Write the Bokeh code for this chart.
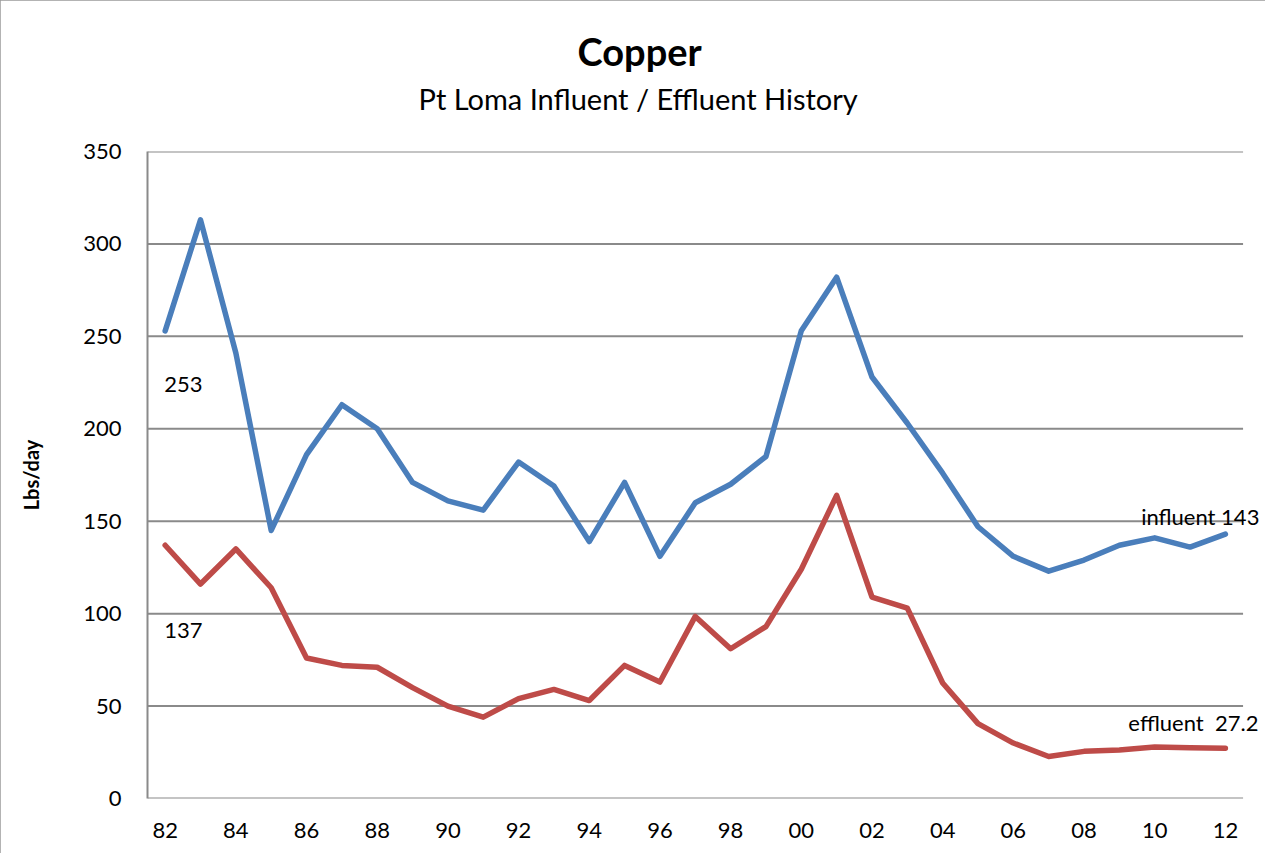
from bokeh.plotting import figure
from bokeh.models import Title, Label, FixedTicker, Range1d
from bokeh.embed import file_html
from bokeh.resources import INLINE

years = list(range(1982, 2013))
influent = [253, 313, 241, 145, 186, 213, 200, 171, 161, 156, 182, 169, 139, 171, 131,
            160, 170, 185, 253, 282, 228, 203, 176, 147, 131, 123, 129, 137, 141, 136, 143]
effluent = [137, 116, 135, 114, 76, 72, 71, 60, 50, 44, 54, 59, 53, 72, 63,
            98.5, 81, 93, 124, 164, 109, 103, 62.5, 40.5, 30, 22.7, 25.5, 26.2, 27.8, 27.4, 27.2]
y_ticks = [0, 50, 100, 150, 200, 250, 300, 350]
x_ticks = years[::2]
x_labels = {y: f"{y % 100:02d}" for y in x_ticks}

FONT = "Lato"
GRID = "#8a8a8a"
BLUE = "#4A7EBB"
RED = "#BE4B48"

x_lo = years[0] - 0.5
x_hi = years[-1] + 0.5

p = figure(width=1265, height=853, output_backend="svg", toolbar_location=None,
           x_range=Range1d(x_lo, x_hi + 0.55), y_range=Range1d(0, 350),
           min_border_left=147, min_border_right=3, min_border_top=151, min_border_bottom=55,
           title=None)
p.outline_line_color = None
p.background_fill_color = "white"
p.border_fill_color = "white"
p.styles = {"outline": "2px solid #9a9a9a", "outline-offset": "-2px"}

sub = Title(text="Pt Loma Influent / Effluent History", align="left", offset=271,
            text_font=FONT, text_font_size="29px", text_font_style="normal",
            text_color="black", standoff=71)
p.add_layout(sub, "above")
ttl = Title(text="Copper", align="left", offset=430, text_font=FONT, text_font_size="38px",
            text_font_style="bold", text_color="black", standoff=0)
try:
    ttl.standoff = -60
except Exception:
    ttl.standoff = 0
p.add_layout(ttl, "above")

# horizontal gridlines (ending at the category axis end)
p.segment(x0=[x_lo] * len(y_ticks), y0=y_ticks, x1=[x_hi] * len(y_ticks), y1=y_ticks,
          line_color=GRID, line_width=2, level="underlay")

p.line(years, influent, line_color=BLUE, line_width=5.5, line_join="round", line_cap="round")
p.line(years, effluent, line_color=RED, line_width=5.5, line_join="round", line_cap="round")

# axes
p.xaxis.ticker = FixedTicker(ticks=x_ticks)
p.xaxis.major_label_overrides = x_labels
p.yaxis.ticker = FixedTicker(ticks=y_ticks)
for ax in (p.xaxis, p.yaxis):
    ax.major_tick_line_color = None
    ax.minor_tick_line_color = None
    ax.major_tick_in = 0
    ax.major_tick_out = 0
    ax.major_label_text_font = FONT
    ax.major_label_text_font_size = "22px"
    ax.major_label_text_color = "black"
p.xaxis.axis_line_color = None
p.yaxis.axis_line_color = GRID
p.yaxis.axis_line_width = 2
p.xaxis.major_label_standoff = 24
p.yaxis.major_label_standoff = 26
p.yaxis.axis_label = "Lbs/day"
p.yaxis.axis_label_text_font = FONT
p.yaxis.axis_label_text_font_size = "20px"
p.yaxis.axis_label_text_font_style = "bold"
p.yaxis.axis_label_text_color = "black"
p.yaxis.axis_label_standoff = 37

p.xgrid.grid_line_color = None
p.ygrid.grid_line_color = None

lab_kw = dict(text_font=FONT, text_font_size="22px", text_color="black", text_baseline="middle")
p.add_layout(Label(x=years[0], y=influent[0], text=str(influent[0]), x_offset=-1, y_offset=-54,
                   text_align="left", **lab_kw))
p.add_layout(Label(x=years[0], y=effluent[0], text=str(effluent[0]), x_offset=-1, y_offset=-85,
                   text_align="left", **lab_kw))
p.add_layout(Label(x=years[-1], y=influent[-1], text=f"influent {influent[-1]}", x_offset=34,
                   y_offset=18, text_align="right", **lab_kw))
p.add_layout(Label(x=years[-1], y=effluent[-1], text=f"effluent \u00a0{effluent[-1]}", x_offset=33,
                   y_offset=26, text_align="right", **lab_kw))

open("out.html", "w").write(file_html(p, INLINE))
